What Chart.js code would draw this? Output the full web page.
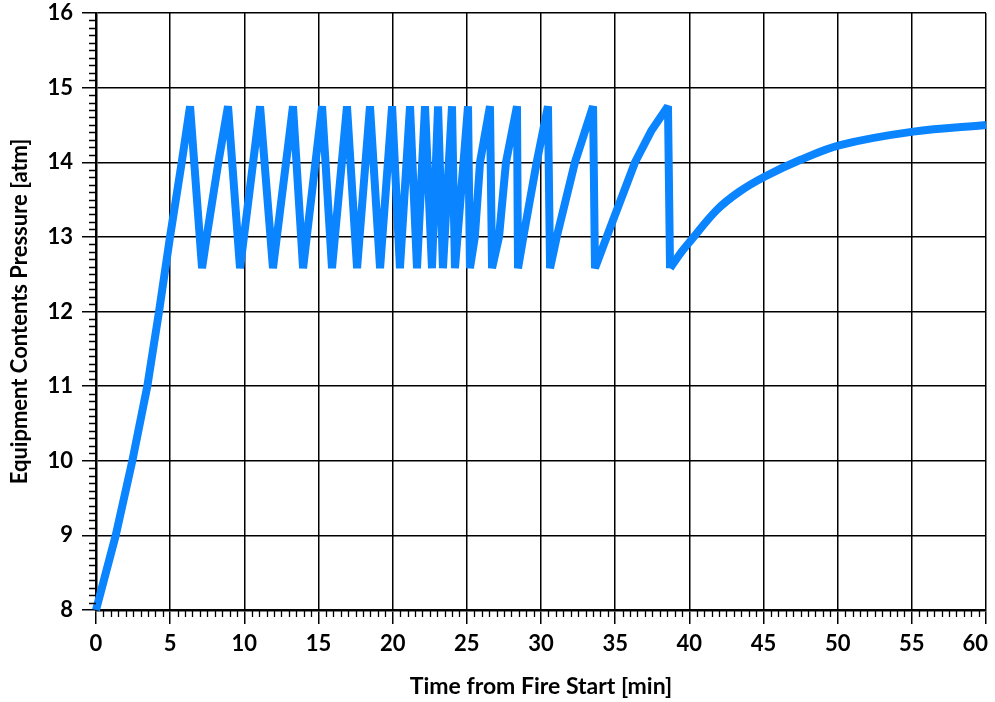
<!DOCTYPE html>
<html><head><meta charset="utf-8">
<script src="https://cdn.jsdelivr.net/npm/chart.js@4.4.1/dist/chart.umd.min.js"></script>
<style>html,body{margin:0;padding:0;background:#fff;}#wrap{width:995px;height:702px;}</style>
</head><body><div id="wrap"><canvas id="c" width="995" height="702"></canvas></div>
<script>
// ---- data ----
const timeMin = [0, 1.33, 2.45, 3.46, 4.25, 4.99, 5.78, 6.34,
  7.15, 7.46, 8.25, 8.90,
  9.71, 11.06, 11.93, 13.28, 13.96, 15.24, 15.91, 16.92, 17.60, 18.47,
  19.15, 19.96, 20.49, 21.17, 21.64, 22.18, 22.65, 23.06, 23.39, 24.00,
  24.20, 25.08, 25.21, 25.54, 25.89, 26.56,
  26.70, 27.17, 27.64, 28.38,
  28.45, 28.81, 29.71, 30.47,
  30.61, 31.06, 32.29, 33.51,
  33.64, 34.43, 36.34, 37.46, 38.56, 38.70];
const pressureAtm = [8.0, 9.0, 10.0, 11.0, 12.0, 13.0, 14.0, 14.75,
  12.58, 13.0, 14.0, 14.75,
  12.58, 14.75, 12.58, 14.75, 12.58, 14.75, 12.58, 14.75, 12.58, 14.75,
  12.58, 14.75, 12.58, 14.75, 12.58, 14.75, 12.58, 14.75, 12.58, 14.75,
  12.58, 14.75, 12.58, 13.0, 14.0, 14.75,
  12.58, 13.0, 14.0, 14.75,
  12.58, 13.0, 14.0, 14.75,
  12.58, 13.0, 14.0, 14.75,
  12.58, 13.0, 14.0, 14.43, 14.75, 12.58];
const recoveryTime = [38.70, 39.4, 40.05, 41.85, 43.4, 45.1, 47.46, 50.16, 55.1, 60.0];
const recoveryPressure = [12.58, 12.78, 12.94, 13.36, 13.61, 13.81, 14.03, 14.23, 14.41, 14.5];
const xTickValues = [0, 5, 10, 15, 20, 25, 30, 35, 40, 45, 50, 55, 60];
const yTickValues = [8, 9, 10, 11, 12, 13, 14, 15, 16];
const xTitle = 'Time from Fire Start [min]';
const yTitle = 'Equipment Contents Pressure [atm]';

// ---- styling ----
const LINE_COLOR = '#0a84ff';
const FONT = 'Lato, "Liberation Sans", sans-serif';

const mainPts = timeMin.map((t, i) => ({x: t, y: pressureAtm[i]}));
const recPts = recoveryTime.map((t, i) => ({x: t, y: recoveryPressure[i]}));

const minorTicks = {
  id: 'minorTicks',
  afterDraw(chart) {
    const ctx = chart.ctx, xs = chart.scales.x, ys = chart.scales.y;
    ctx.save();
    ctx.strokeStyle = '#000';
    ctx.lineWidth = 1.3;
    ctx.beginPath();
    for (let k = 0; k <= 120; k++) {
      if (k % 10 === 0) continue;
      const px = Math.round(xs.getPixelForValue(k * 0.5)) + 0.5;
      ctx.moveTo(px, ys.bottom);
      ctx.lineTo(px, ys.bottom + 7);
    }
    for (let k = 0; k <= 80; k++) {
      if (k % 10 === 0) continue;
      const py = Math.round(ys.getPixelForValue(8 + k * 0.1)) + 0.5;
      ctx.moveTo(xs.left - 7, py);
      ctx.lineTo(xs.left, py);
    }
    ctx.stroke();
    ctx.restore();
  }
};

function noPad(s) { s.paddingLeft = 0; s.paddingRight = 0; s.paddingTop = 0; s.paddingBottom = 0; }

new Chart(document.getElementById('c'), {
  type: 'line',
  data: {
    datasets: [
      {data: mainPts, borderColor: LINE_COLOR, backgroundColor: LINE_COLOR, borderWidth: 8,
       pointRadius: 0, tension: 0, borderJoinStyle: 'bevel', borderCapStyle: 'butt', clip: false},
      {data: recPts, borderColor: LINE_COLOR, backgroundColor: LINE_COLOR, borderWidth: 8,
       pointRadius: 0, tension: 0.35, borderJoinStyle: 'round', clip: false}
    ]
  },
  options: {
    responsive: false, animation: false, devicePixelRatio: 1,
    layout: {padding: {top: 13, right: 9, left: 0, bottom: 0}},
    plugins: {legend: {display: false}, tooltip: {enabled: false}},
    scales: {
      x: {
        type: 'linear', min: 0, max: 60,
        afterBuildTicks: s => { s.ticks = xTickValues.map(v => ({value: v})); },
        afterFit: s => { s.height = 92; noPad(s); },
        ticks: {autoSkip: false, maxRotation: 0, color: '#000', padding: 7,
          font: {family: FONT, size: 22, weight: 'bold'},
          callback: v => (v === 60 ? '60    ' : String(v))},
        grid: {color: '#000', lineWidth: 1.5, tickLength: 14, tickColor: '#000', tickWidth: 1.5},
        border: {color: '#000', width: 2.5},
        title: {display: true, text: xTitle, color: '#000', padding: {top: 0, bottom: 2},
          font: {family: FONT, size: 23, weight: 'bold'}}
      },
      y: {
        type: 'linear', min: 8, max: 16,
        afterBuildTicks: s => { s.ticks = yTickValues.map(v => ({value: v})); },
        afterFit: s => { s.width = 96; noPad(s); },
        ticks: {color: '#000', padding: 9, font: {family: FONT, size: 22, weight: 'bold'}},
        grid: {color: '#000', lineWidth: 1.5, tickLength: 14, tickColor: '#000', tickWidth: 1.5},
        border: {color: '#000', width: 2.5},
        title: {display: true, text: yTitle, color: '#000', padding: {top: 7, bottom: 0},
          font: {family: FONT, size: 22, weight: 'bold'}}
      }
    }
  },
  plugins: [minorTicks]
});
</script></body></html>
